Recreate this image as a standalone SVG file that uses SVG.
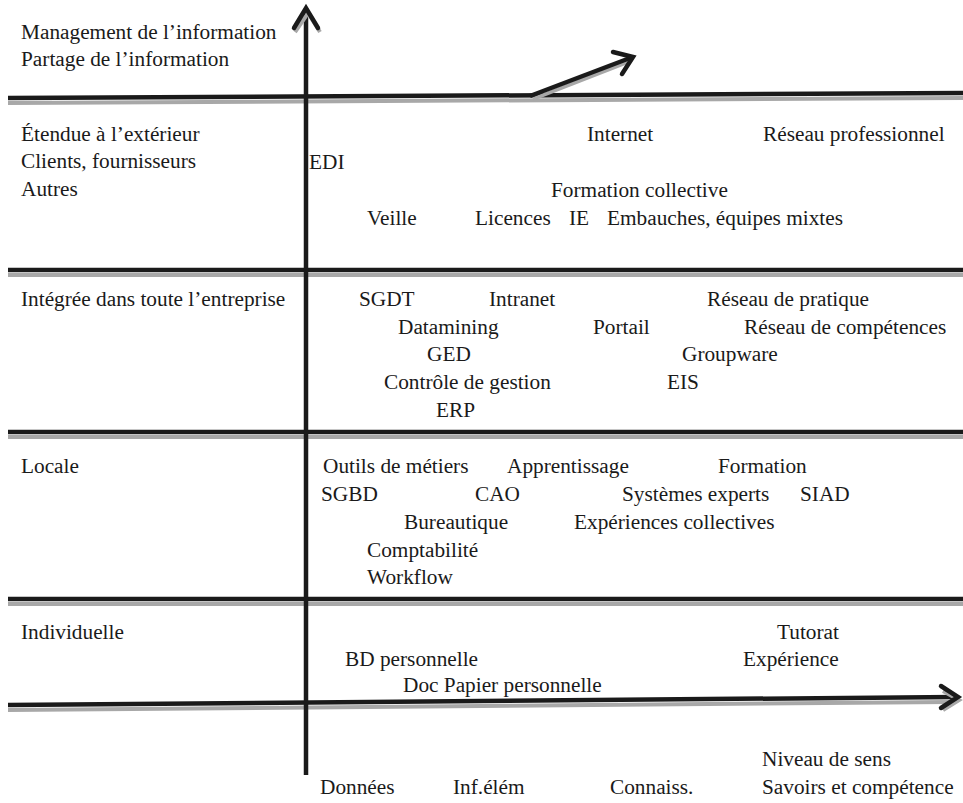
<svg xmlns="http://www.w3.org/2000/svg" width="963" height="803" viewBox="0 0 963 803">
<style>
text{font-family:"Liberation Serif","DejaVu Serif","Times New Roman",serif;font-size:21.3px;fill:#1a1a1a}
.r{stroke:#1a1a1a;stroke-width:4.5;fill:none;stroke-linecap:butt}
.s{stroke:#a8a8a8;stroke-width:4;fill:none}
.h{stroke:#1a1a1a;stroke-width:4.5;fill:none;stroke-linecap:round;stroke-linejoin:miter}
</style>
<rect width="963" height="803" fill="#fff"/>
<g id="connectors">
<line class="s" x1="8" y1="103" x2="963" y2="98"/>
<line class="r" x1="8" y1="98" x2="963" y2="93"/>
<line class="s" x1="8" y1="275" x2="963" y2="275"/>
<line class="r" x1="8" y1="270" x2="963" y2="270"/>
<line class="s" x1="8" y1="437" x2="963" y2="437"/>
<line class="r" x1="8" y1="432" x2="963" y2="432"/>
<line class="s" x1="8" y1="604" x2="963" y2="604"/>
<line class="r" x1="8" y1="599" x2="963" y2="599"/>
<line class="s" x1="8" y1="710" x2="950" y2="702"/>
<line class="r" x1="8" y1="705" x2="956" y2="697"/>
<polyline class="s" points="943,691 959,700 943,710"/>
<polyline class="h" points="941,686 958,697 941,708"/>
<line class="r" x1="306" y1="10" x2="306" y2="775"/>
<polyline class="s" points="295,32 308,13 320,32"/>
<polyline class="h" points="294,28 306,8 318,28"/>
<line class="s" x1="533" y1="99" x2="628" y2="62"/>
<line class="r" x1="530" y1="96" x2="630" y2="58"/>
<polyline class="h" points="613,52 633,57 622,74"/>
</g>
<g id="n-management"><text x="21" y="39">Management de l’information</text></g>
<g id="n-partage"><text x="21" y="66">Partage de l’information</text></g>
<g id="n-etendue"><text x="21" y="141">Étendue à l’extérieur</text></g>
<g id="n-clients"><text x="21" y="168">Clients, fournisseurs</text></g>
<g id="n-autres"><text x="21" y="196">Autres</text></g>
<g id="n-integree"><text x="21" y="306">Intégrée dans toute l’entreprise</text></g>
<g id="n-locale"><text x="21" y="473">Locale</text></g>
<g id="n-individuelle"><text x="21" y="639">Individuelle</text></g>
<g id="n-internet"><text x="587" y="141">Internet</text></g>
<g id="n-reseau-pro"><text x="763" y="141">Réseau professionnel</text></g>
<g id="n-edi"><text x="309" y="169">EDI</text></g>
<g id="n-formation-coll"><text x="551" y="197">Formation collective</text></g>
<g id="n-veille"><text x="367" y="225">Veille</text></g>
<g id="n-licences"><text x="475" y="225">Licences</text></g>
<g id="n-ie"><text x="569" y="225">IE</text></g>
<g id="n-embauches"><text x="607" y="225">Embauches, équipes mixtes</text></g>
<g id="n-sgdt"><text x="359" y="306">SGDT</text></g>
<g id="n-intranet"><text x="489" y="306">Intranet</text></g>
<g id="n-reseau-pratique"><text x="707" y="306">Réseau de pratique</text></g>
<g id="n-datamining"><text x="398" y="334">Datamining</text></g>
<g id="n-portail"><text x="593" y="334">Portail</text></g>
<g id="n-reseau-comp"><text x="744" y="334">Réseau de compétences</text></g>
<g id="n-ged"><text x="427" y="361">GED</text></g>
<g id="n-groupware"><text x="682" y="361">Groupware</text></g>
<g id="n-controle"><text x="384" y="389">Contrôle de gestion</text></g>
<g id="n-eis"><text x="667" y="389">EIS</text></g>
<g id="n-erp"><text x="436" y="417">ERP</text></g>
<g id="n-outils"><text x="323" y="473">Outils de métiers</text></g>
<g id="n-apprentissage"><text x="507" y="473">Apprentissage</text></g>
<g id="n-formation"><text x="718" y="473">Formation</text></g>
<g id="n-sgbd"><text x="321" y="501">SGBD</text></g>
<g id="n-cao"><text x="475" y="501">CAO</text></g>
<g id="n-systemes"><text x="622" y="501">Systèmes experts</text></g>
<g id="n-siad"><text x="800" y="501">SIAD</text></g>
<g id="n-bureautique"><text x="404" y="529">Bureautique</text></g>
<g id="n-experiences"><text x="574" y="529">Expériences collectives</text></g>
<g id="n-comptabilite"><text x="367" y="557">Comptabilité</text></g>
<g id="n-workflow"><text x="367" y="584">Workflow</text></g>
<g id="n-tutorat"><text x="777" y="639">Tutorat</text></g>
<g id="n-bd"><text x="345" y="666">BD personnelle</text></g>
<g id="n-experience"><text x="743" y="666">Expérience</text></g>
<g id="n-doc"><text x="403" y="692">Doc Papier personnelle</text></g>
<g id="n-niveau"><text x="762" y="766">Niveau de sens</text></g>
<g id="n-donnees"><text x="320" y="794">Données</text></g>
<g id="n-infelem"><text x="453" y="794">Inf.élém</text></g>
<g id="n-connaiss"><text x="610" y="794">Connaiss.</text></g>
<g id="n-savoirs"><text x="762" y="794">Savoirs et compétence</text></g>
</svg>
